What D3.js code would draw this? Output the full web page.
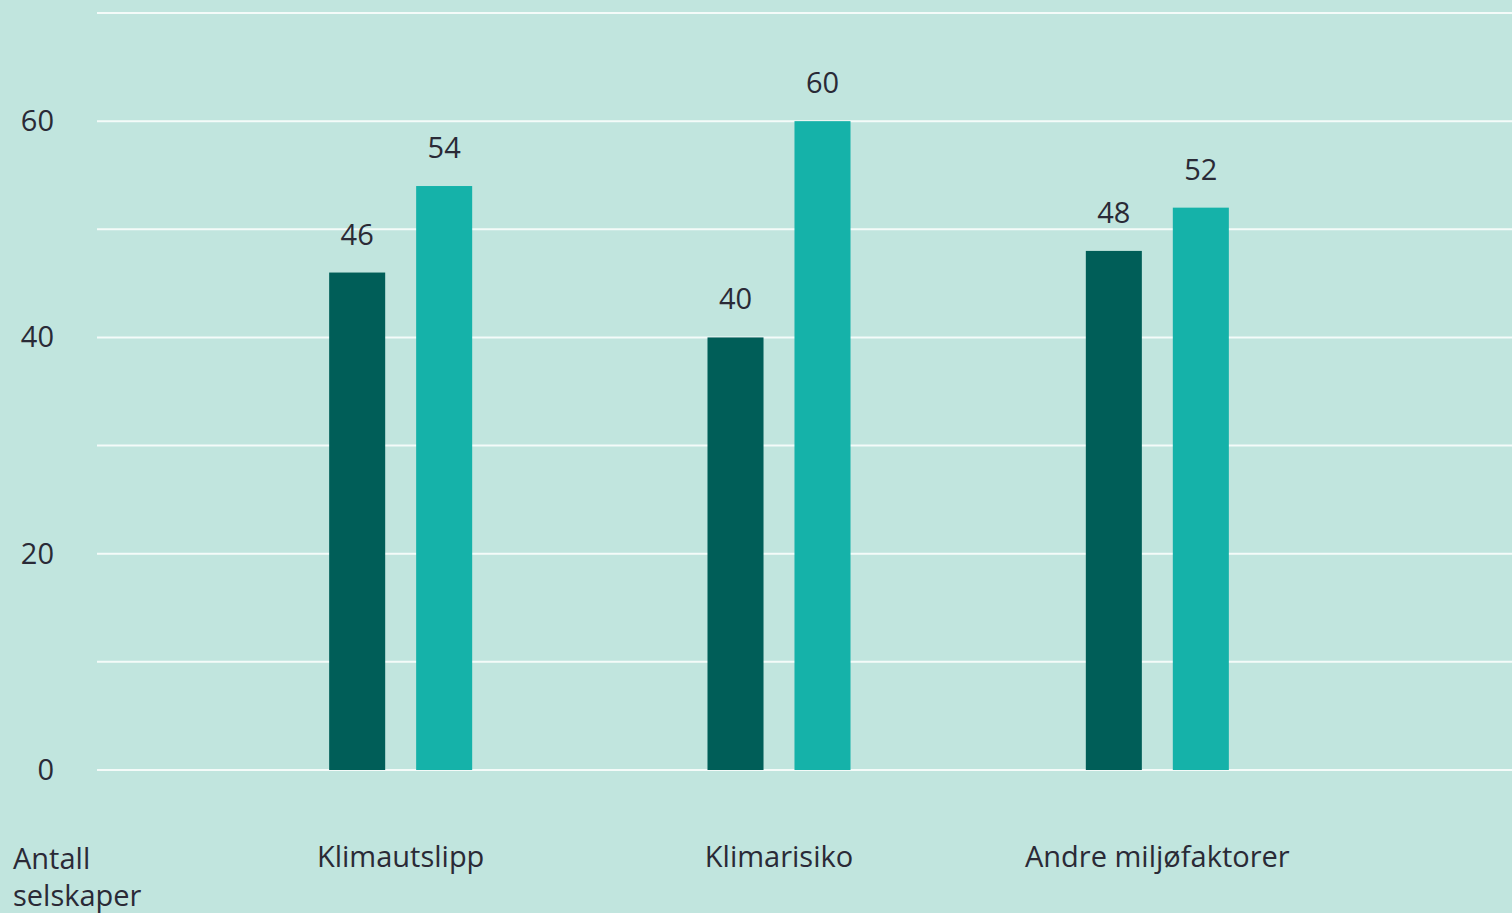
<!DOCTYPE html>
<html>
<head>
<meta charset="utf-8">
<script src="https://cdn.jsdelivr.net/npm/d3@7.9.0/dist/d3.min.js"></script>
<style>
  html, body { margin: 0; padding: 0; background: #c1e5de; }
  svg { display: block; }
  text { font-family: "Open Sans", Lato, sans-serif; fill: #2a2a36; }
</style>
</head>
<body>
<svg id="chart"></svg>
<script>
// data
const categories = ['Klimautslipp', 'Klimarisiko', 'Andre miljøfaktorer'];
const seriesNames = ['a', 'b'];
const seriesA = [46, 40, 48];
const seriesB = [54, 60, 52];
const yTicks = [0, 20, 40, 60];
const gridTicks = [0, 10, 20, 30, 40, 50, 60, 70];
const yLabel = ['Antall', 'selskaper'];

const width = 1512, height = 913;
const colors = ['#005e58', '#15b2a9'];
const fontSize = '29px';

const svg = d3.select('#chart').attr('width', width).attr('height', height);

svg.append('rect').attr('width', width).attr('height', height).attr('fill', '#c1e5de');

const y = d3.scaleLinear().domain([0, 70]).range([770, 13]);

const x = d3.scaleBand().domain(categories).range([211.5, 1346.5])
  .paddingInner(0.622).paddingOuter(0.311);
const xs = d3.scaleBand().domain(seriesNames).range([0, x.bandwidth()]).paddingInner(0.356);

// gridlines
svg.append('g').selectAll('line')
  .data(gridTicks)
  .enter()
  .append('line')
  .attr('x1', 97).attr('x2', width)
  .attr('y1', d => y(d)).attr('y2', d => y(d))
  .attr('stroke', '#f4fbf9')
  .attr('stroke-width', 2);

// y tick labels
svg.append('g').selectAll('text')
  .data(yTicks)
  .enter()
  .append('text')
  .attr('x', 54)
  .attr('y', d => y(d) + 10)
  .attr('text-anchor', 'end')
  .style('font-size', fontSize)
  .text(d => d);

const rows = categories.map((c, i) => ({ cat: c, values: [seriesA[i], seriesB[i]] }));

const groups = svg.append('g').selectAll('g')
  .data(rows)
  .enter()
  .append('g')
  .attr('transform', d => `translate(${x(d.cat)},0)`);

groups.selectAll('rect')
  .data(d => d.values.map((v, j) => ({ key: seriesNames[j], value: v, j })))
  .enter()
  .append('rect')
  .attr('x', d => xs(d.key))
  .attr('width', xs.bandwidth())
  .attr('y', d => y(d.value))
  .attr('height', d => y(0) - y(d.value))
  .attr('fill', d => colors[d.j]);

groups.selectAll('text')
  .data(d => d.values.map((v, j) => ({ key: seriesNames[j], value: v })))
  .enter()
  .append('text')
  .attr('x', d => xs(d.key) + xs.bandwidth() / 2)
  .attr('y', d => y(d.value) - 28)
  .attr('text-anchor', 'middle')
  .style('font-size', fontSize)
  .text(d => d.value);

// category labels
svg.append('g').selectAll('text')
  .data(categories)
  .enter()
  .append('text')
  .attr('x', d => x(d) + x.bandwidth() / 2)
  .attr('y', 867)
  .attr('text-anchor', 'middle')
  .style('font-size', fontSize)
  .text(d => d);

// axis title
svg.append('text')
  .attr('x', 13)
  .attr('y', 869)
  .style('font-size', fontSize)
  .selectAll('tspan')
  .data(yLabel)
  .enter()
  .append('tspan')
  .attr('x', 13)
  .attr('dy', (d, i) => i === 0 ? 0 : 37)
  .text(d => d);
</script>
</body>
</html>
